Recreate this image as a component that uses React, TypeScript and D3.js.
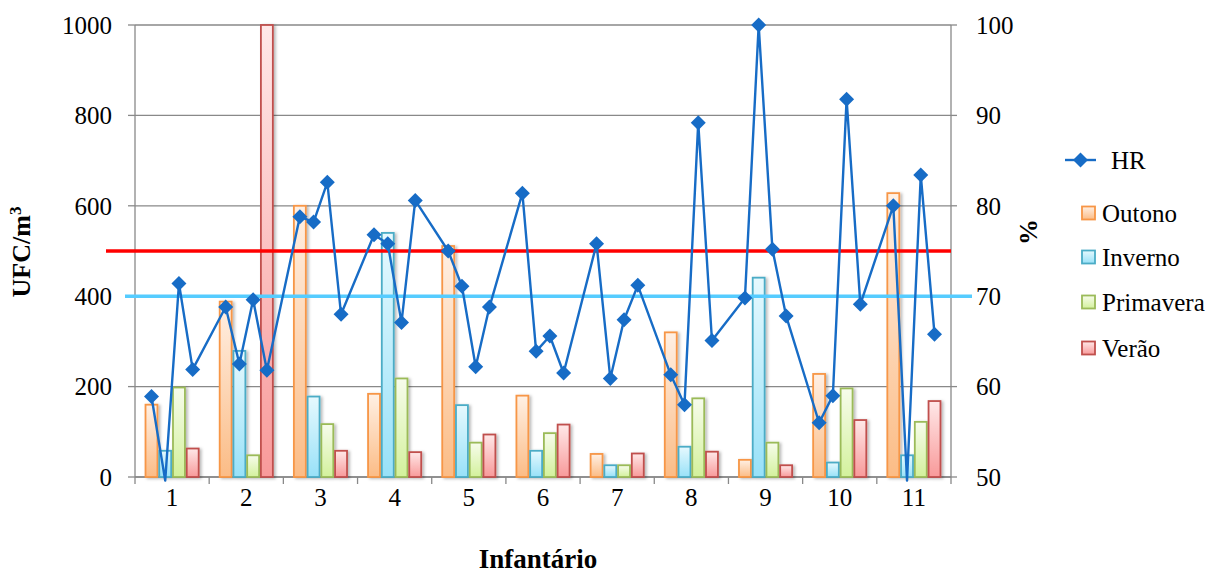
import React from "react";
import * as d3 from "d3";

// Infantário identifiers (x categories)
const schools = ["1", "2", "3", "4", "5", "6", "7", "8", "9", "10", "11"];
const seasons = ["Outono", "Inverno", "Primavera", "Verão"];

// UFC/m3 per season, per infantário
const outono = [160, 388, 600, 184, 511, 180, 51, 320, 38, 228, 628];
const inverno = [58, 279, 178, 540, 159, 58, 26, 67, 441, 32, 48];
const primavera = [198, 48, 117, 218, 76, 97, 26, 174, 76, 196, 122];
const verao = [63, 1000, 58, 55, 94, 116, 52, 56, 26, 126, 168];

// Relative humidity (%), one reading per season for each infantário
const hr = [
  58.9, 49.6, 71.4, 61.9,
  68.8, 62.5, 69.6, 61.8,
  78.8, 78.2, 82.6, 68.0,
  76.8, 75.8, 67.1, 80.6,
  75.0, 71.1, 62.2, 68.8,
  81.4, 63.9, 65.6, 61.5,
  75.8, 60.9, 67.4, 71.2,
  61.3, 58.0, 89.2, 65.1,
  69.8, 100, 75.2, 67.8,
  56.0, 59.0, 91.8, 69.1,
  80.0, 49.6, 83.4, 65.8,
];

// Reference limits on the UFC/m3 axis
const limitRed = 500;
const limitBlue = 400;

const leftTicks = [0, 200, 400, 600, 800, 1000];
const rightTicks = [50, 60, 70, 80, 90, 100];

const seriesValues = [outono, inverno, primavera, verao];
const strokeColors = ["#F79646", "#4BACC6", "#9BBB59", "#C0504D"];
const gradTop = ["#FFF0E4", "#E6F9FE", "#F7FCEC", "#FFE8E8"];
const gradBottom = ["#FBBC86", "#98E1F8", "#D3F19C", "#F89A9A"];

const W = 1214;
const H = 574;
const left = 135;
const right = 951;
const top = 25;
const bottom = 477;
const font = "Liberation Serif";

const txt = (size: number, bold = false): React.CSSProperties => ({
  fontFamily: font,
  fontSize: size,
  fontWeight: bold ? "bold" : "normal",
});

export default function App() {
  const x = d3.scaleBand<string>().domain(schools).range([left, right]).padding(0);
  const sub = d3
    .scaleBand<string>()
    .domain(seasons)
    .range([0, x.bandwidth()])
    .paddingInner(0)
    .paddingOuter(0.7);
  const yL = d3.scaleLinear().domain([0, 1000]).range([bottom, top]);
  const yR = d3.scaleLinear().domain([50, 100]).range([bottom, top]);

  const hrPts = hr.map((v, i) => {
    const g = schools[Math.floor(i / 4)];
    const s = seasons[i % 4];
    return { v, x: (x(g) as number) + (sub(s) as number) + sub.bandwidth() / 2, y: yR(v) };
  });
  const line = d3
    .line<{ x: number; y: number }>()
    .x((d) => d.x)
    .y((d) => d.y);

  const diamond = (cx: number, cy: number, r: number) =>
    `M${cx},${cy - r}L${cx + r},${cy}L${cx},${cy + r}L${cx - r},${cy}Z`;

  const hrColor = "#176CC6";
  const gridColor = "#898989";

  return (
    <svg width={W} height={H} style={{ display: "block", position: "absolute", left: 0, top: 0 }}>
      <defs>
        {seasons.map((s, i) => (
          <linearGradient key={s} id={`g${i}`} x1="0" y1="0" x2="0" y2="1">
            <stop offset="0%" stopColor={gradTop[i]} />
            <stop offset="100%" stopColor={gradBottom[i]} />
          </linearGradient>
        ))}
        <filter id="shadow" x="-30%" y="-5%" width="160%" height="110%">
          <feDropShadow dx="2" dy="1" stdDeviation="1.6" floodColor="#000" floodOpacity="0.28" />
        </filter>
      </defs>
      <rect width={W} height={H} fill="#fff" />

      {/* horizontal gridlines */}
      {leftTicks.map((t) => (
        <line key={t} x1={left} x2={right} y1={yL(t)} y2={yL(t)} stroke={gridColor} strokeWidth={1.3} />
      ))}

      {/* left axis */}
      <line x1={left} x2={left} y1={top} y2={bottom} stroke={gridColor} strokeWidth={1.3} />
      {leftTicks.map((t) => (
        <g key={t}>
          <line x1={left - 7} x2={left} y1={yL(t)} y2={yL(t)} stroke={gridColor} strokeWidth={1.3} />
          <text x={112} y={yL(t)} dy="0.35em" textAnchor="end" style={txt(25)} fill="#000">
            {t}
          </text>
        </g>
      ))}

      {/* right axis */}
      <line x1={right} x2={right} y1={top} y2={bottom} stroke={gridColor} strokeWidth={1.3} />
      {rightTicks.map((t) => (
        <g key={t}>
          <line x1={right} x2={right + 6} y1={yR(t)} y2={yR(t)} stroke={gridColor} strokeWidth={1.3} />
          <text x={976} y={yR(t)} dy="0.35em" textAnchor="start" style={txt(25)} fill="#000">
            {t}
          </text>
        </g>
      ))}

      {/* bottom axis */}
      <line x1={left} x2={right} y1={bottom} y2={bottom} stroke={gridColor} strokeWidth={1.3} />
      {[...schools.map((s) => x(s) as number), right].map((px, i) => (
        <line key={i} x1={px} x2={px} y1={bottom} y2={bottom + 7} stroke={gridColor} strokeWidth={1.3} />
      ))}
      {schools.map((s) => (
        <text
          key={s}
          x={(x(s) as number) + x.bandwidth() / 2}
          y={497}
          dy="0.35em"
          textAnchor="middle"
          style={txt(25)}
          fill="#000"
        >
          {s}
        </text>
      ))}

      {/* bars */}
      <g filter="url(#shadow)">
        {seriesValues.map((vals, si) =>
          vals.map((v, gi) => {
            const bx = (x(schools[gi]) as number) + (sub(seasons[si]) as number);
            const by = yL(v);
            return (
              <rect
                key={`${si}-${gi}`}
                x={bx + 0.9}
                y={by}
                width={sub.bandwidth() - 1.8}
                height={bottom - by}
                fill={`url(#g${si})`}
                stroke={strokeColors[si]}
                strokeWidth={1.8}
              />
            );
          })
        )}
      </g>

      {/* limit lines */}
      <line x1={106} x2={right} y1={yL(limitRed)} y2={yL(limitRed)} stroke="#FF0000" strokeWidth={3.5} />
      <line x1={125} x2={972} y1={yL(limitBlue)} y2={yL(limitBlue)} stroke="#55CCFF" strokeWidth={3.5} />

      {/* HR line */}
      <path d={line(hrPts) || ""} fill="none" stroke={hrColor} strokeWidth={2.4} strokeLinejoin="round" />
      {hrPts
        .filter((p) => p.v >= 50)
        .map((p, i) => (
          <path key={i} d={diamond(p.x, p.y, 7.5)} fill={hrColor} />
        ))}

      {/* axis titles */}
      <text x={538} y={559} dy="0.35em" textAnchor="middle" style={txt(27, true)} fill="#000">
        Infantário
      </text>
      <text transform="translate(30,252) rotate(-90)" textAnchor="middle" style={txt(26, true)} fill="#000">
        UFC/m<tspan dy="-9" style={{ fontSize: 17 }}>3</tspan>
      </text>
      <text
        transform="translate(1028,232) rotate(-90)"
        dy="0.35em"
        textAnchor="middle"
        style={txt(26, true)}
        fill="#000"
      >
        %
      </text>

      {/* legend */}
      <g>
        <line x1={1065} x2={1096} y1={160} y2={160} stroke={hrColor} strokeWidth={2.4} />
        <path d={diamond(1080.5, 160, 7.5)} fill={hrColor} />
        <text x={1111} y={160} dy="0.35em" style={txt(25)} fill="#000">
          HR
        </text>
        {seasons.map((s, i) => {
          const cy = [213, 257, 302, 348][i];
          return (
            <g key={s}>
              <rect
                x={1082}
                y={cy - 6.5}
                width={13}
                height={13}
                fill={`url(#g${i})`}
                stroke={strokeColors[i]}
                strokeWidth={1.8}
              />
              <text x={1102} y={cy} dy="0.35em" style={txt(25)} fill="#000">
                {s}
              </text>
            </g>
          );
        })}
      </g>
    </svg>
  );
}
